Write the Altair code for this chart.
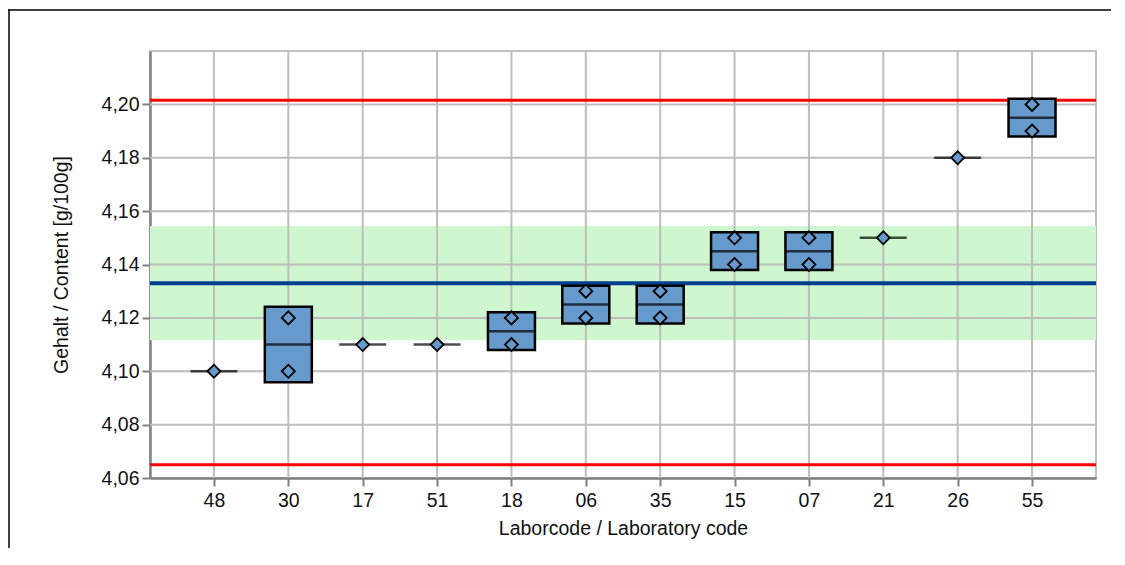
import altair as alt
import pandas as pd

# ---- data ----
labs = ["48", "30", "17", "51", "18", "06", "35", "15", "07", "21", "26", "55"]
first_result = [4.10, 4.10, 4.11, 4.11, 4.11, 4.12, 4.12, 4.14, 4.14, 4.15, 4.18, 4.19]
second_result = [None, 4.12, None, None, 4.12, 4.13, 4.13, 4.15, 4.15, None, None, 4.20]

assigned_value = 4.133
tolerance_low = 4.1116
tolerance_high = 4.1544
limit_low = 4.065
limit_high = 4.2015

y_ticks = [4.06, 4.08, 4.10, 4.12, 4.14, 4.16, 4.18, 4.20]
y_grid = [4.08, 4.10, 4.12, 4.14, 4.16, 4.18, 4.20]
y_domain = [4.06, 4.22]

# ---- tables ----
rows = []
for lab, a, b in zip(labs, first_result, second_result):
    rows.append({"lab": lab, "value": a})
    if b is not None:
        rows.append({"lab": lab, "value": b})
points = pd.DataFrame(rows)
stats = points.groupby("lab", sort=False)["value"].agg(["mean", "std", "count"]).reset_index()
stats["lo"] = stats["mean"] - stats["std"]
stats["hi"] = stats["mean"] + stats["std"]
boxes = stats[stats["count"] > 1]

band_df = pd.DataFrame({"lo": [tolerance_low], "hi": [tolerance_high]})
limits_df = pd.DataFrame({"v": [limit_low, limit_high]})
assigned_df = pd.DataFrame({"v": [assigned_value]})
grid_y_df = pd.DataFrame({"v": y_grid})
grid_x_df = pd.DataFrame({"lab": labs})
one = pd.DataFrame({"a": [0]})

W, H = 946, 427
PAD_R = 17
FONT = "Liberation Sans"
BOX_FILL = "#6699CC"

y_scale = alt.Scale(domain=y_domain, nice=False, zero=False)
x_scale = alt.Scale(type="point", domain=labs, padding=0.86)
y_axis = alt.Axis(values=y_ticks, title="Gehalt / Content [g/100g]",
                  labelExpr="replace(format(datum.value, '.2f'), '.', ',')",
                  titlePadding=30)
x_axis = alt.Axis(title="Laborcode / Laboratory code", labelAngle=0,
                  labelPadding=5, titlePadding=10)

X = alt.X("lab:N", scale=x_scale, axis=x_axis, sort=labs)

band = alt.Chart(band_df).mark_rect(color="#CFF7CF").encode(
    x=alt.value(0), x2=alt.value(W),
    y=alt.Y("lo:Q", scale=y_scale, axis=y_axis), y2="hi:Q")

grid_h = alt.Chart(grid_y_df).mark_rule(color="#BDBDBD", strokeWidth=2).encode(
    x=alt.value(0), x2=alt.value(W),
    y=alt.Y("v:Q", scale=y_scale, axis=y_axis))

grid_v = alt.Chart(grid_x_df).mark_rule(color="#BDBDBD", strokeWidth=2).encode(
    x=X, y=alt.value(0), y2=alt.value(H))

limits = alt.Chart(limits_df).mark_rule(color="#FF0000", strokeWidth=3).encode(
    x=alt.value(0), x2=alt.value(W),
    y=alt.Y("v:Q", scale=y_scale, axis=y_axis))

assigned = alt.Chart(assigned_df).mark_rule(color="#003F8F", strokeWidth=4).encode(
    x=alt.value(0), x2=alt.value(W),
    y=alt.Y("v:Q", scale=y_scale, axis=y_axis))

box = alt.Chart(boxes).mark_bar(width=47, fill=BOX_FILL, stroke="black",
                                strokeWidth=2.5).encode(
    x=X, y=alt.Y("lo:Q", scale=y_scale, axis=y_axis), y2="hi:Q")

mean_tick = alt.Chart(stats).mark_tick(size=47, thickness=2.5, color="black",
                                       orient="horizontal").encode(
    x=X, y=alt.Y("mean:Q", scale=y_scale, axis=y_axis))

dots = alt.Chart(points).mark_point(shape="diamond", filled=True, fill=BOX_FILL,
                                    stroke="black", strokeWidth=1.8, size=170,
                                    opacity=1).encode(
    x=X, y=alt.Y("value:Q", scale=y_scale, axis=y_axis))

frame_left = alt.Chart(one).mark_rule(color="black", strokeWidth=1.5).encode(
    x=alt.value(-141), y=alt.value(-41.75), y2=alt.value(H + 70))
frame_top = alt.Chart(one).mark_rule(color="black", strokeWidth=1.5).encode(
    x=alt.value(-141.75), x2=alt.value(W + 15), y=alt.value(-41))

chart = alt.layer(band, grid_h, grid_v, limits, assigned, box, mean_tick, dots,
                  frame_left, frame_top).properties(
    width=W, height=H,
    padding={"left": 142, "top": 43, "right": PAD_R, "bottom": 70},
    autosize=alt.AutoSizeParams(type="none"),
    background="white",
).configure_view(
    stroke="#C0C0C0", strokeWidth=2
).configure_axis(
    grid=False, domainColor="#808080", domainWidth=2.5,
    tickColor="#808080", tickWidth=2, tickSize=8,
    labelFont=FONT, labelFontSize=19.5, labelColor="#111111", labelPadding=3,
    titleFont=FONT, titleFontSize=19.5, titleFontWeight="normal", titleColor="#111111",
    zindex=1,
)

chart.save("out.html", embed_options={"renderer": "svg", "actions": False})
